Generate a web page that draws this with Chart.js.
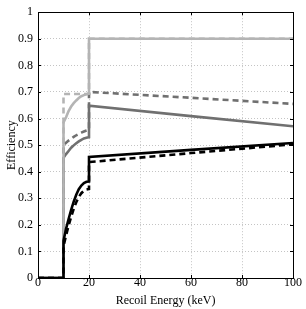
<!DOCTYPE html>
<html><head><meta charset="utf-8">
<script src="https://cdn.jsdelivr.net/npm/chart.js@4/dist/chart.umd.min.js"></script>
<style>html,body{margin:0;padding:0;background:#fff}#c{display:block}</style>
</head><body>
<canvas id="c" width="306" height="309"></canvas>
<script>
// Energies (keV)
const lowE = [10,11,12,13,14,15,16,17,18,19,20];
const highE = [20,60,100];
// Efficiency values
const blackSolidLow  = [0.14,0.185,0.222,0.256,0.287,0.313,0.334,0.348,0.357,0.362,0.363];
const blackSolidHigh = [0.455,0.482,0.508];
const blackDashLow   = [0.12,0.16,0.197,0.23,0.26,0.285,0.305,0.319,0.328,0.333,0.335];
const blackDashHigh  = [0.436,0.470,0.503];
const dgSolidLow     = [0.452,0.466,0.478,0.490,0.499,0.507,0.514,0.520,0.525,0.528,0.530];
const dgSolidHigh    = [0.648,0.609,0.571];
const dgDashLow      = [0.500,0.509,0.517,0.524,0.531,0.537,0.542,0.547,0.551,0.555,0.558];
const dgDashHigh     = [0.700,0.678,0.655];
const lgSolidLow     = [0.585,0.605,0.628,0.645,0.658,0.668,0.677,0.684,0.688,0.691,0.693];
const lgSolidHigh    = [0.90,0.90,0.90];
const lgDashLow      = [0.692,0.692,0.692,0.692,0.692,0.692,0.692,0.692,0.692,0.692,0.692];
const lgDashHigh     = [0.90,0.90,0.90];
const xTicks = [0,20,40,60,80,100];
const yTicks = [0,0.1,0.2,0.3,0.4,0.5,0.6,0.7,0.8,0.9,1];

function build(low, high){
  const pts = [{x:0,y:0},{x:10,y:0}];
  lowE.forEach((e,i)=>pts.push({x:e,y:low[i]}));
  highE.forEach((e,i)=>pts.push({x:e,y:high[i]}));
  return pts;
}
const BLACK='#000000', DG='#707070', LG='#b4b4b4';
const ds = (data,color,dash)=>({data,borderColor:color,borderWidth:2.6,borderDash:dash?[6,4]:[],
  pointRadius:0,showLine:true,fill:false,tension:0,borderCapStyle:'butt',borderJoinStyle:'miter'});

const frame = {
  id:'frame',
  afterDraw(chart){
    const {ctx,chartArea:a,scales} = chart;
    ctx.save();
    ctx.strokeStyle='#000'; ctx.lineWidth=1;
    ctx.strokeRect(Math.round(a.left)+0.5,Math.round(a.top)+0.5,Math.round(a.right-a.left),Math.round(a.bottom-a.top));
    ctx.beginPath();
    xTicks.forEach(v=>{const px=Math.round(scales.x.getPixelForValue(v))+0.5;
      ctx.moveTo(px,a.bottom);ctx.lineTo(px,a.bottom-3);ctx.moveTo(px,a.top);ctx.lineTo(px,a.top+3);});
    yTicks.forEach(v=>{const py=Math.round(scales.y.getPixelForValue(v))+0.5;
      ctx.moveTo(a.left,py);ctx.lineTo(a.left+3,py);ctx.moveTo(a.right,py);ctx.lineTo(a.right-3,py);});
    ctx.stroke();
    ctx.restore();
  }
};

const font = {family:'"Liberation Serif", serif', size:12};
const tfont = {family:'"Liberation Serif", serif', size:12};
new Chart(document.getElementById('c'),{
  type:'scatter',
  data:{datasets:[
    ds(build(blackSolidLow,blackSolidHigh),BLACK,false),
    ds(build(blackDashLow,blackDashHigh),BLACK,true),
    ds(build(lgSolidLow,lgSolidHigh),LG,false),
    ds(build(dgSolidLow,dgSolidHigh),DG,false),
    ds(build(dgDashLow,dgDashHigh),DG,true),
    ds(build(lgDashLow,lgDashHigh),LG,true)
  ]},
  options:{
    responsive:false,animation:false,
    layout:{padding:{top:10,right:13,left:0,bottom:0}},
    plugins:{legend:{display:false},tooltip:{enabled:false}},
    scales:{
      x:{type:'linear',min:0,max:100,
        afterBuildTicks(s){s.ticks=xTicks.map(v=>({value:v}));},
        afterFit(s){s.height=31;},
        ticks:{font,color:'#000',padding:-2,maxRotation:0,callback:v=>String(v)},
        grid:{color:'#c4c4c4',lineWidth:1,drawTicks:false},
        border:{display:false,dash:[1,2]},
        title:{display:true,text:'Recoil Energy (keV)',font:tfont,color:'#000',padding:{top:0,bottom:1}}
      },
      y:{type:'linear',min:0,max:1,
        afterBuildTicks(s){s.ticks=yTicks.map(v=>({value:v}));},
        afterFit(s){s.width=38;},
        ticks:{font,color:'#000',padding:5,callback:v=>String(v)},
        grid:{color:'#c4c4c4',lineWidth:1,drawTicks:false},
        border:{display:false,dash:[1,2]},
        title:{display:true,text:'Efficiency',font:tfont,color:'#000',padding:{top:5,bottom:0}}
      }
    }
  },
  plugins:[frame]
});
</script>
</body></html>
